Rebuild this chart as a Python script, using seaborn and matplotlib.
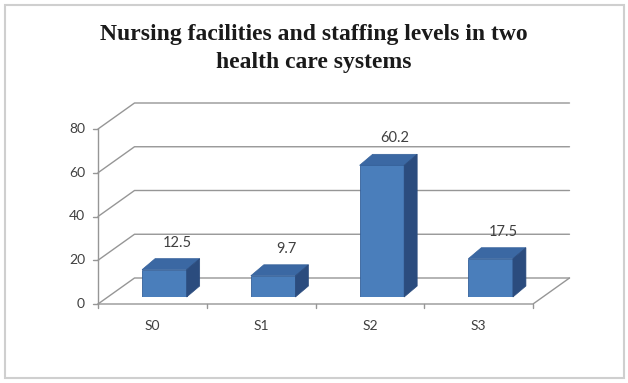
import numpy as np
import pandas as pd
import matplotlib
matplotlib.use("Agg")
import matplotlib.pyplot as plt
import seaborn as sns
from matplotlib.patches import Polygon, Rectangle

# ---- data ----
categories = ["S0", "S1", "S2", "S3"]
values = [12.5, 9.7, 60.2, 17.5]
y_ticks = [0, 20, 40, 60, 80]
title_text = "Nursing facilities and staffing levels in two\nhealth care systems"

# ---- style ----
W, H, DPI = 628, 383, 100
FRONT = "#4a7ebb"
TOP = "#3b68a3"
SIDE = "#2b4c7e"
EDGE = "#34609a"
GRID = "#969696"
TXT = "#404040"

sns.set_theme(style="white")
plt.rcParams['font.family'] = ['Lato', 'DejaVu Sans']

fig = plt.figure(figsize=(W / DPI, H / DPI), dpi=DPI)
fig.patch.set_facecolor("white")

# axes (bar front plane) placed in pixels
ax_left, ax_bottom_img, ax_w, ax_h = 110, 297, 435, 175
ax = fig.add_axes([ax_left / W, (H - ax_bottom_img) / H, ax_w / W, ax_h / H])

df = pd.DataFrame({"cat": categories, "val": values})
sns.barplot(data=df, x="cat", y="val", ax=ax, width=0.41, color=FRONT,
            saturation=1, edgecolor=EDGE, linewidth=0.6, zorder=3)
ax.set_xlim(-0.5, len(categories) - 0.5)
ax.set_ylim(0, y_ticks[-1])
ax.axis("off")

px_x = ax_w / len(categories)
px_y = ax_h / y_ticks[-1]


def off(dx_px, dy_px):
    return dx_px / px_x, dy_px / px_y


fdx, fdy = off(-12, -7)      # front (axis) plane
bdx, bdy = off(24.5, 19)     # back wall plane
ddx, ddy = off(13, 11)       # bar depth

x0, x1 = -0.5, len(categories) - 0.5

# back wall gridlines + left wall slants
for v in y_ticks:
    ax.plot([x0 + fdx, x0 + bdx, x1 + bdx], [v + fdy, v + bdy, v + bdy],
            color=GRID, lw=1.0, clip_on=False, zorder=1)
    # tick mark on the front axis
    ax.plot([x0 + fdx + off(-5, 0)[0], x0 + fdx], [v + fdy, v + fdy],
            color=GRID, lw=1.0, clip_on=False, zorder=1)
    ax.annotate(str(v), xy=(x0 + fdx, v + fdy), xytext=(-13, 0),
                textcoords="offset pixels", ha="right", va="center",
                fontsize=10, color=TXT, annotation_clip=False)

# front y-axis line
ax.plot([x0 + fdx, x0 + fdx], [fdy, y_ticks[-1] + fdy], color=GRID, lw=1.0,
        clip_on=False, zorder=1)
# floor front edge and right slant
ax.plot([x0 + fdx, x1 + fdx, x1 + bdx], [fdy, fdy, bdy], color=GRID, lw=1.0,
        clip_on=False, zorder=1)
# category boundary ticks
for b in np.arange(x0, x1 + 0.01, 1.0):
    ax.plot([b + fdx, b + fdx], [fdy, fdy + off(0, -4)[1]], color=GRID,
            lw=1.0, clip_on=False, zorder=1)

# 3D tops and sides of bars
for p, val in zip(ax.patches, values):
    bx, bw, bh = p.get_x(), p.get_width(), p.get_height()
    top = Polygon([(bx, bh), (bx + bw, bh), (bx + bw + ddx, bh + ddy),
                   (bx + ddx, bh + ddy)], closed=True, facecolor=TOP,
                  edgecolor=EDGE, lw=0.5, zorder=3, clip_on=False)
    side = Polygon([(bx + bw, 0), (bx + bw + ddx, ddy),
                    (bx + bw + ddx, bh + ddy), (bx + bw, bh)], closed=True,
                   facecolor=SIDE, edgecolor=SIDE, lw=0.5, zorder=3,
                   clip_on=False)
    ax.add_patch(top)
    ax.add_patch(side)
    ax.annotate(f"{val}", xy=(bx + bw / 2, bh), xytext=(13, 27),
                textcoords="offset pixels", ha="center", va="center",
                fontsize=10.5, color=TXT, annotation_clip=False)

# category labels
for i, c in enumerate(categories):
    ax.annotate(c, xy=(i + fdx, fdy), xytext=(0, -22),
                textcoords="offset pixels", ha="center", va="center",
                fontsize=10, color=TXT, annotation_clip=False)

# title
fig.text(314 / W, 1 - 48.5 / H, title_text, ha="center", va="center",
         fontfamily="Liberation Serif", fontweight="bold", fontsize=17,
         color="#1a1a1a", linespacing=1.4)

# chart area border
fig.add_artist(Rectangle((5 / W, (H - 378) / H), (624 - 5) / W, (378 - 5) / H,
                         transform=fig.transFigure, fill=False,
                         edgecolor="#cfcfcf", lw=1.5))

fig.savefig("out.png", dpi=DPI, facecolor="white")
